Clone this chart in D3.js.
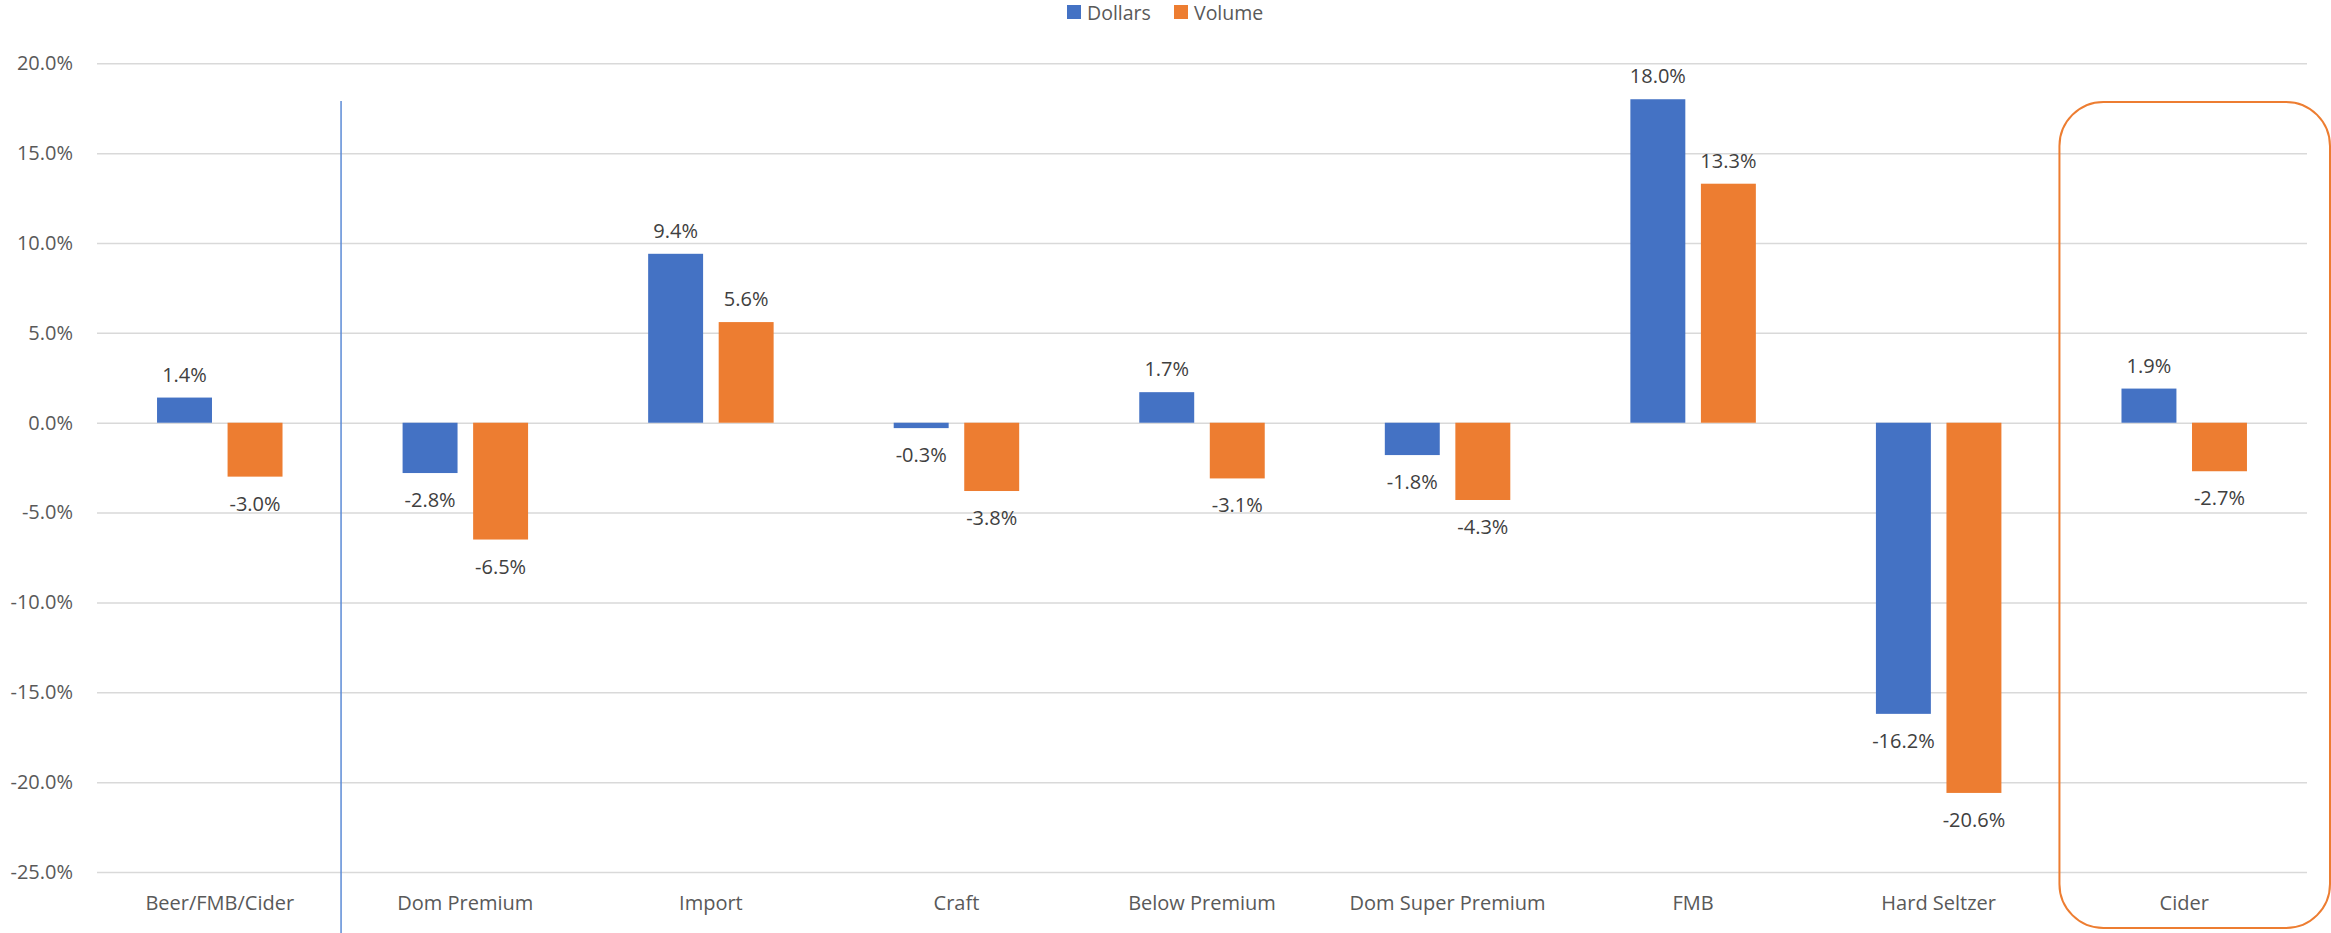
<!DOCTYPE html>
<html>
<head>
<meta charset="utf-8">
<script src="https://cdn.jsdelivr.net/npm/d3@7"></script>
<style>
  html, body { margin: 0; padding: 0; background: #fff; }
  svg { display: block; font-family: "Open Sans", "Noto Sans", sans-serif; }
</style>
</head>
<body>
<svg id="chart" width="2331" height="933"></svg>
<script>
const categories = ["Beer/FMB/Cider", "Dom Premium", "Import", "Craft", "Below Premium", "Dom Super Premium", "FMB", "Hard Seltzer", "Cider"];
const seriesNames = ["Dollars", "Volume"];
const dollars = [1.4, -2.8, 9.4, -0.3, 1.7, -1.8, 18.0, -16.2, 1.9];
const volume  = [-3.0, -6.5, 5.6, -3.8, -3.1, -4.3, 13.3, -20.6, -2.7];
const yTicks = [20, 15, 10, 5, 0, -5, -10, -15, -20, -25];
const colors = ["#4472C4", "#ED7D31"];

(function () {
const svg = d3.select("#chart");
const W = 2331, H = 933;
const pLeft = 97, pRight = 2307, pTop = 63.3, pBottom = 872;

const x0 = d3.scaleBand().domain(categories).range([pLeft, pRight]).paddingInner(0.489).paddingOuter(0.2445);
const x1 = d3.scaleBand().domain(seriesNames).range([0, x0.bandwidth()]).paddingInner(0.221).paddingOuter(0);
const y = d3.scaleLinear().domain([-25, 20]).range([pBottom, pTop]);
const color = d3.scaleOrdinal().domain(seriesNames).range(colors);
const fmt = d => d3.format(".1f")(d).replace("\u2212", "-") + "%";

// gridlines + y labels
const yAxis = d3.axisLeft(y).tickValues(yTicks).tickFormat(fmt)
  .tickSizeInner(-(pRight - pLeft)).tickSizeOuter(0).tickPadding(24);
const gy = svg.append("g").attr("transform", `translate(${pLeft},0)`).call(yAxis);
gy.select(".domain").remove();
gy.selectAll(".tick line").attr("stroke", "#d9d9d9").attr("stroke-width", 1.5);
gy.selectAll(".tick text").attr("fill", "#595959").attr("font-size", 20)
  .attr("font-family", "'Open Sans', sans-serif");

// x labels
const xAxis = d3.axisBottom(x0).tickSize(0).tickPadding(23.5);
const gx = svg.append("g").attr("transform", `translate(0,${pBottom})`).call(xAxis);
gx.select(".domain").remove();
gx.selectAll(".tick text").attr("fill", "#595959").attr("font-size", 20)
  .attr("font-family", "'Open Sans', sans-serif");

// separator line between first and second category
const sepX = x0(categories[1]) - x0.step() * x0.paddingInner() / 2 - 1.5;
svg.append("line").attr("x1", sepX).attr("x2", sepX).attr("y1", 101).attr("y2", H)
  .attr("stroke", "#5B8BD6").attr("stroke-width", 1.5);

// bars
const rows = categories.map((c, i) => ({cat: c, vals: [{s: "Dollars", v: dollars[i]}, {s: "Volume", v: volume[i]}]}));
const groups = svg.append("g").selectAll("g").data(rows).join("g")
  .attr("transform", d => `translate(${x0(d.cat)},0)`);
groups.selectAll("rect").data(d => d.vals).join("rect")
  .attr("x", d => x1(d.s))
  .attr("width", x1.bandwidth())
  .attr("y", d => y(Math.max(0, d.v)))
  .attr("height", d => Math.abs(y(d.v) - y(0)))
  .attr("fill", d => color(d.s));
groups.selectAll("text").data(d => d.vals).join("text")
  .attr("x", d => x1(d.s) + x1.bandwidth() / 2)
  .attr("y", d => d.v >= 0 ? y(d.v) - 23 : y(d.v) + 27)
  .attr("dy", "0.35em")
  .attr("text-anchor", "middle")
  .attr("font-size", 20)
  .attr("fill", "#404040")
  .text(d => fmt(d.v));

// highlight rounded rectangle around last category
const hx = x0(categories[8]) - x0.step() * x0.paddingOuter() - 2;
svg.append("rect").attr("x", hx).attr("y", 102).attr("width", 2330 - hx).attr("height", 826)
  .attr("rx", 44).attr("ry", 44)
  .attr("fill", "none").attr("stroke", "#ED7D31").attr("stroke-width", 2);

// legend
const legend = svg.append("g");
const legX = [1067, 1174];
seriesNames.forEach((s, i) => {
  legend.append("rect").attr("x", legX[i]).attr("y", 5).attr("width", 14).attr("height", 14).attr("fill", color(s));
  legend.append("text").attr("x", legX[i] + 20).attr("y", 13.5).attr("dy", "0.35em")
    .attr("font-size", 19.5).attr("fill", "#595959").text(s);
});
})();
</script>
</body>
</html>
